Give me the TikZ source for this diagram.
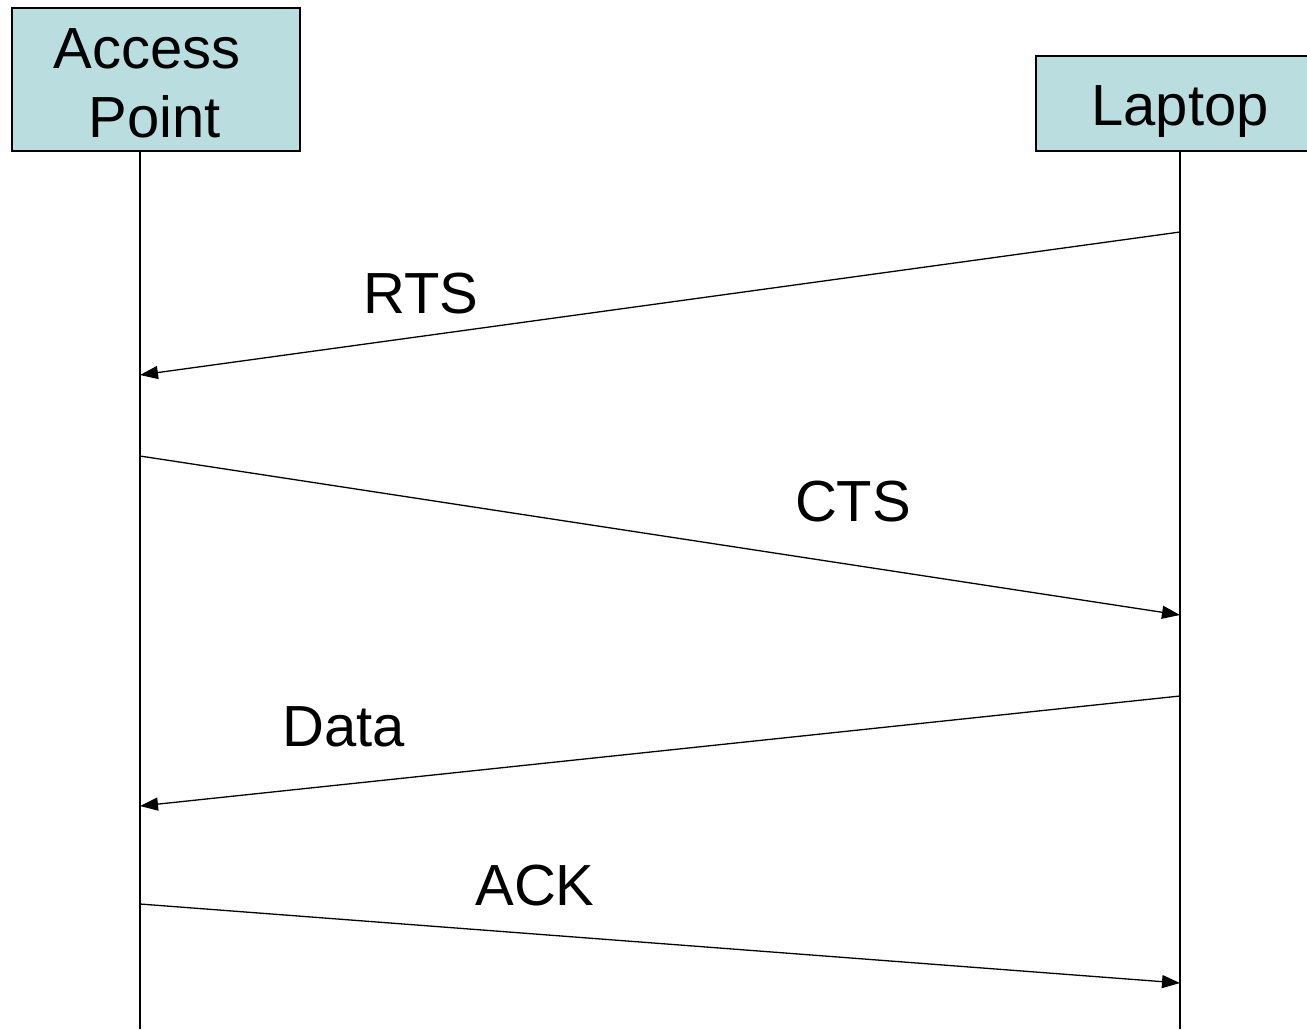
\documentclass[tikz,border=0pt]{standalone}
\usepackage{fontspec}
\setmainfont{Liberation Sans}
\usetikzlibrary{arrows.meta}
\definecolor{boxfill}{HTML}{BADEDF}
\tikzset{
  actor/.style={draw=black, line width=1.3pt, fill=boxfill, inner sep=0pt},
  lifeline/.style={draw=black, line width=1.3pt},
  msg/.style={draw=black, line width=1.3pt, -{Triangle[length=18pt,width=13pt]}},
  msglabel/.style={anchor=base, inner sep=0pt, font=\fontsize{58}{69}\selectfont},
}
\begin{document}
\begin{tikzpicture}[x=1pt,y=-1pt]
  \useasboundingbox (0,0) rectangle (1307,1029);
  % actor boxes
  \path[actor] (12,8) rectangle (300,151);
  \path[actor] (1036,56) rectangle (1312,151);
  \node[msglabel] (apA) at (155,68) {Access\kern16pt};
  \node[msglabel] (apB) at (155,137) {Point};
  \node[msglabel] (lt) at (1180,125) {Laptop};
  % lifelines
  \coordinate (apTop) at (140,151);
  \coordinate (apBot) at (140,1029);
  \coordinate (ltTop) at (1180,151);
  \coordinate (ltBot) at (1180,1029);
  \draw[lifeline] (apTop) -- (apBot);
  \draw[lifeline] (ltTop) -- (ltBot);
  % message endpoints
  \coordinate (rtsS) at (1180,232);
  \coordinate (rtsE) at (140,375);
  \coordinate (ctsS) at (140,456);
  \coordinate (ctsE) at (1180,615);
  \coordinate (dataS) at (1180,696);
  \coordinate (dataE) at (140,806);
  \coordinate (ackS) at (140,904);
  \coordinate (ackE) at (1180,983);
  % messages
  \draw[msg] (rtsS) -- (rtsE);
  \draw[msg] (ctsS) -- (ctsE);
  \draw[msg] (dataS) -- (dataE);
  \draw[msg] (ackS) -- (ackE);
  \node[msglabel] (rts) at (421,313) {RTS};
  \node[msglabel] (cts) at (853,521) {CTS};
  \node[msglabel] (data) at (344,746) {Data};
  \node[msglabel] (ack) at (535,905) {ACK};
\end{tikzpicture}
\end{document}
